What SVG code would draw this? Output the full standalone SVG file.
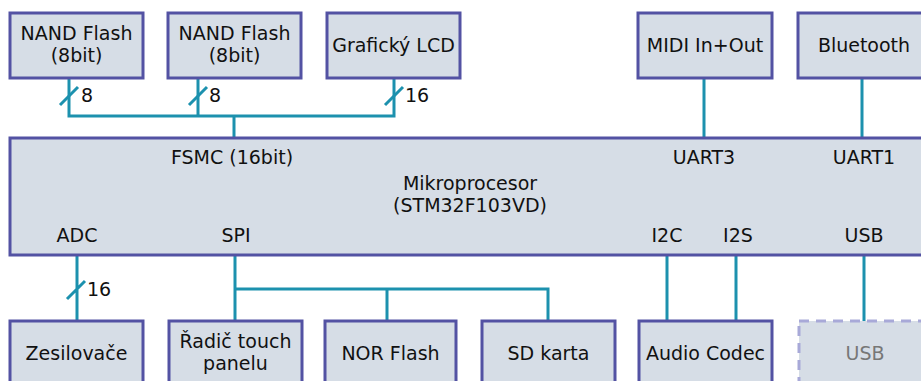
<svg xmlns="http://www.w3.org/2000/svg" width="921" height="381" viewBox="0 0 921 381">
<style>
.box{fill:#d6dde6;stroke:#5352a3;stroke-width:3}
.dash{fill:#d6dde6;stroke:#a8a9d8;stroke-width:3;stroke-dasharray:10 7}
.c{fill:none;stroke:#1c91ae;stroke-width:3}
text{font-family:"DejaVu Sans",sans-serif;font-size:19px;fill:#111}
.m{text-anchor:middle}
.g{fill:#777}
</style>
<rect width="921" height="381" fill="#fff"/>
<g id="connectors">
<path class="c" d="M69 78V116H394V78M198 78V116M234 116V138"/>
<path class="c" d="M60 105L78 87M189 105L207 87M385 105L403 87"/>
<path class="c" d="M704 78V138M862 78V138"/>
<path class="c" d="M77 255V321M67 299L85 281"/>
<path class="c" d="M235 255V321M235 289H548V321M387 289V321"/>
<path class="c" d="M667 255V321M736 255V321M864 255V321"/>
<text x="81" y="102">8</text>
<text x="209" y="102">8</text>
<text x="405" y="102">16</text>
<text x="87" y="296">16</text>
</g>
<g id="nand1"><rect class="box" x="10" y="13" width="133" height="65"/><text class="m" x="76.5" y="40">NAND Flash</text><text class="m" x="76.5" y="62">(8bit)</text></g>
<g id="nand2"><rect class="box" x="168" y="13" width="133" height="65"/><text class="m" x="234.5" y="40">NAND Flash</text><text class="m" x="234.5" y="62">(8bit)</text></g>
<g id="lcd"><rect class="box" x="327" y="13" width="133" height="65"/><text class="m" x="393.5" y="52">Grafický LCD</text></g>
<g id="midi"><rect class="box" x="638" y="13" width="134" height="65"/><text class="m" x="705" y="52">MIDI In+Out</text></g>
<g id="bluetooth"><rect class="box" x="798" y="13" width="133" height="65"/><text class="m" x="864" y="52">Bluetooth</text></g>
<g id="mcu"><rect class="box" x="10" y="138" width="925" height="117"/>
<text class="m" x="232" y="164">FSMC (16bit)</text>
<text class="m" x="704" y="164">UART3</text>
<text class="m" x="864" y="164">UART1</text>
<text class="m" x="470" y="190">Mikroprocesor</text>
<text class="m" x="470" y="212">(STM32F103VD)</text>
<text class="m" x="77" y="242">ADC</text>
<text class="m" x="236" y="242">SPI</text>
<text class="m" x="667" y="242">I2C</text>
<text class="m" x="738" y="242">I2S</text>
<text class="m" x="864" y="242">USB</text>
</g>
<g id="zesilovace"><rect class="box" x="10" y="321" width="133" height="70"/><text class="m" x="76.5" y="360">Zesilovače</text></g>
<g id="radic"><rect class="box" x="169" y="321" width="133" height="70"/><text class="m" x="235.5" y="348">Řadič touch</text><text class="m" x="235.5" y="370">panelu</text></g>
<g id="nor"><rect class="box" x="325" y="321" width="131" height="70"/><text class="m" x="390.5" y="360">NOR Flash</text></g>
<g id="sd"><rect class="box" x="482" y="321" width="133" height="70"/><text class="m" x="548.5" y="360">SD karta</text></g>
<g id="audio"><rect class="box" x="639" y="321" width="133" height="70"/><text class="m" x="705.5" y="360">Audio Codec</text></g>
<g id="usb"><rect class="dash" x="799" y="321" width="133" height="70"/><text class="m g" x="865" y="360">USB</text></g>
</svg>
